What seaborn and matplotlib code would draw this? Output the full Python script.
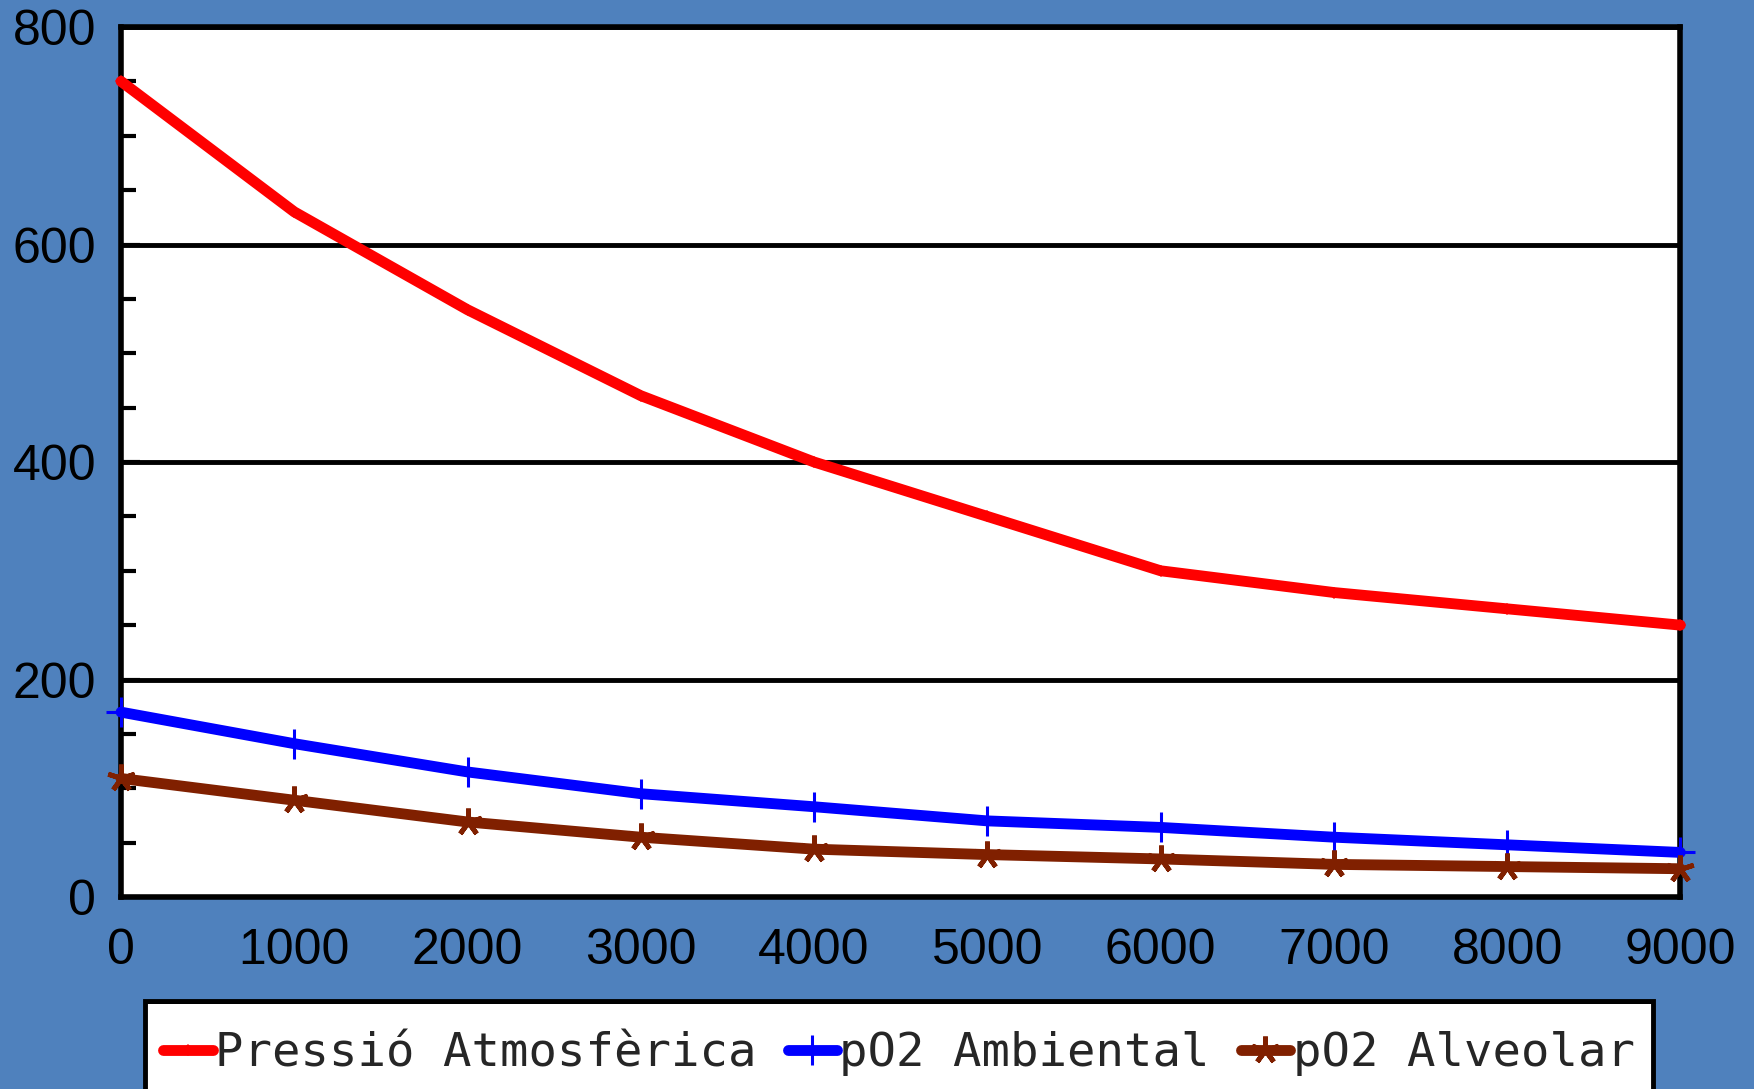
import matplotlib
matplotlib.use("Agg")
import matplotlib.pyplot as plt
import seaborn as sns
import pandas as pd
from matplotlib.ticker import MultipleLocator
from matplotlib.patches import Rectangle

altitude = [0, 1000, 2000, 3000, 4000, 5000, 6000, 7000, 8000, 9000]
pressio_atm = [750, 630, 540, 461, 400, 350, 300, 280, 265, 250]
po2_ambiental = [170, 141, 115, 95, 83, 70, 64, 55, 48, 41]
po2_alveolar = [109, 89, 69, 55, 44, 39, 35, 30, 28, 26]
series_names = ["Pressió Atmosfèrica", "pO2 Ambiental", "pO2 Alveolar"]
x_ticks = [0, 1000, 2000, 3000, 4000, 5000, 6000, 7000, 8000, 9000]
y_ticks = [0, 200, 400, 600, 800]

BG = "#4F81BD"
RED = "#FF0000"
BLUE = "#0000FF"
BROWN = "#802000"
sns.set_style("white")
plt.rcParams['font.family'] = ['Liberation Sans', 'DejaVu Sans']

W, H = 1754, 1089
fig = plt.figure(figsize=(W / 100, H / 100), dpi=100, facecolor=BG)
ax = fig.add_axes([0.069, 0.1763, 0.889, 0.7989])
ax.set_facecolor("white")

df = pd.DataFrame({"alt": altitude, "a": pressio_atm, "b": po2_ambiental, "c": po2_alveolar})

sns.lineplot(data=df, x="alt", y="a", ax=ax, color=RED, lw=7.8, marker="D", ms=6,
             mec=RED, mfc=RED, mew=0, label=series_names[0], clip_on=False, zorder=5)
sns.lineplot(data=df, x="alt", y="b", ax=ax, color=BLUE, lw=7.8, marker="+", ms=22,
             mec=BLUE, mew=2.2, label=series_names[1], clip_on=False, zorder=5)
sns.lineplot(data=df, x="alt", y="c", ax=ax, color=BROWN, lw=7.8, marker=(5, 2, 0), ms=20,
             mec=BROWN, mfc=BROWN, mew=3.5, label=series_names[2], clip_on=False, zorder=5)

ax.set_xlim(0, 9000)
ax.set_ylim(0, 800)
ax.set_xticks(x_ticks)
ax.set_xticklabels([str(v) for v in x_ticks])
ax.set_yticks(y_ticks)
ax.set_yticklabels([str(v) for v in y_ticks])
ax.yaxis.set_minor_locator(MultipleLocator(50))
ax.set_xlabel("")
ax.set_ylabel("")

ax.grid(axis="y", which="major", color="black", lw=3.5, zorder=1)
ax.grid(axis="x", visible=False)
ax.set_axisbelow(True)
for s in ax.spines.values():
    s.set_color("black")
    s.set_linewidth(4)

ax.tick_params(axis="x", which="major", direction="in", length=20, width=3, color="black",
               labelsize=36, pad=22, labelcolor="black")
ax.tick_params(axis="y", which="major", direction="in", length=14, width=3, color="black",
               labelsize=36, pad=18, labelcolor="black", left=True)
ax.tick_params(axis="y", which="minor", direction="in", length=11, width=3, color="black", left=True)

# legend frame (box runs off the bottom edge of the figure)
x0, x1, ytop = 145, 1653, 1001
fig.patches.append(Rectangle((x0 / W, -0.05), (x1 - x0) / W, 0.05 + (H - ytop) / H,
                             transform=fig.transFigure, facecolor="white", edgecolor="black",
                             lw=3.5, zorder=-2))
fig.patches.append(Rectangle((x0 / W, (H - ytop) / H - 0.003), (x1 - x0) / W, 0.004,
                             transform=fig.transFigure, facecolor="black", edgecolor="none", zorder=-1))

leg = ax.legend(loc="center", bbox_to_anchor=((x0 + x1) / 2 / W, (H - 1054) / H),
                bbox_transform=fig.transFigure,
                ncol=3, frameon=False, prop={"family": "DejaVu Sans Mono", "size": 34},
                handlelength=1.05, handletextpad=0.05, columnspacing=0.65, borderpad=0,
                borderaxespad=0)

fig.savefig("out.png", dpi=100, facecolor=BG)
